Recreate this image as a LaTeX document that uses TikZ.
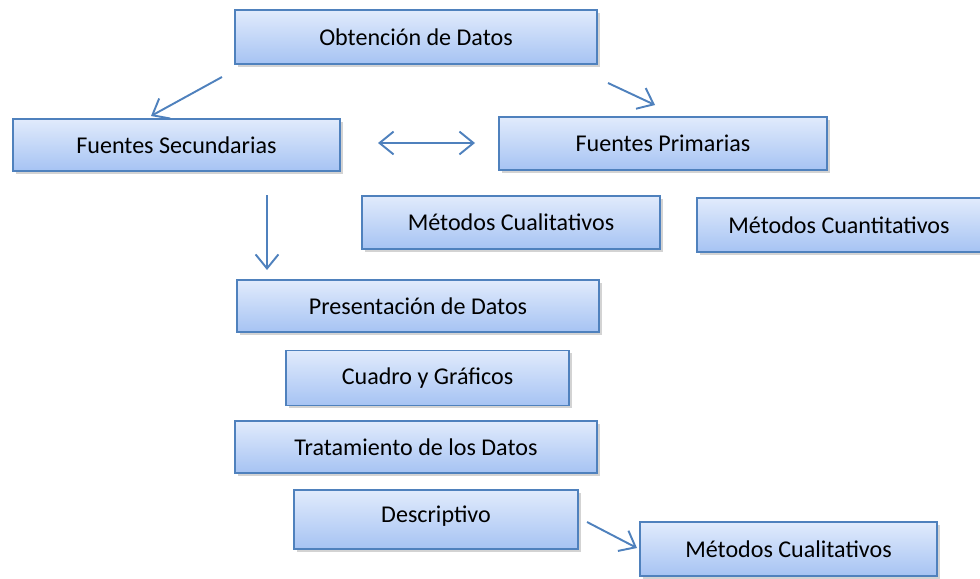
\documentclass[tikz,border=0pt]{standalone}
\usepackage{fontspec}
\setmainfont{Carlito}
\usetikzlibrary{arrows.meta,shadows}
\definecolor{boxline}{HTML}{4F81BD}
\definecolor{boxtop}{HTML}{E1EBFC}
\definecolor{boxbot}{HTML}{A6C3F3}

\begin{document}
\begin{tikzpicture}[x=0.02cm,y=-0.02cm,
  caja/.style={draw=boxline, line width=0.7pt, top color=boxtop, bottom color=boxbot,
    drop shadow={shadow xshift=1.6pt, shadow yshift=-1.6pt, opacity=0.35},
    inner sep=0pt, font=\fontsize{13.7}{16}\selectfont},
  flecha/.style={draw=boxline, line width=1.1pt, -{Straight Barb[length=8pt,width=13pt,line width=1.1pt]}},
  doble/.style={draw=boxline, line width=1.1pt, {Straight Barb[length=8pt,width=13pt,line width=1.1pt]}-{Straight Barb[length=8pt,width=13pt,line width=1.1pt]}}]
\useasboundingbox (0,0) rectangle (980,578);
\node[caja, minimum width=7.24cm, minimum height=1.08cm] (obtencion) at (416,37) {Obtención de Datos};
\node[caja, minimum width=6.54cm, minimum height=1.04cm] (secundarias) at (176.5,145) {Fuentes Secundarias};
\node[caja, minimum width=6.56cm, minimum height=1.06cm] (primarias) at (663,143.5) {Fuentes Primarias};
\node[caja, minimum width=5.96cm, minimum height=1.06cm] (cualit1) at (511,222.5) {Métodos Cualitativos};
\node[caja, minimum width=5.68cm, minimum height=1.08cm] (cuantit) at (839,225) {Métodos Cuantitativos};
\node[caja, minimum width=7.24cm, minimum height=1.04cm] (presentacion) at (418,306) {Presentación de Datos};
\node[caja, minimum width=5.66cm, minimum height=1.1cm] (cuadro) at (427.5,378) {Cuadro y Gráficos};
\node[caja, minimum width=7.24cm, minimum height=1.04cm] (tratamiento) at (416,447) {Tratamiento de los Datos};
\node[caja, minimum width=5.68cm, minimum height=1.18cm, text depth=0.6em] (descriptivo) at (436,519.5) {Descriptivo};
\node[caja, minimum width=5.94cm, minimum height=1.08cm] (cualit2) at (788.5,549) {Métodos Cualitativos};
\coordinate (f1a) at (222,77);
\coordinate (f1b) at (151,116);
\coordinate (f2a) at (608,83);
\coordinate (f2b) at (655,105);
\coordinate (f3a) at (378,143);
\coordinate (f3b) at (475,143);
\coordinate (f4a) at (267,195);
\coordinate (f4b) at (267,270);
\coordinate (f5a) at (587,522);
\coordinate (f5b) at (637,548);
\draw[flecha] (f1a) -- (f1b);
\draw[flecha] (f2a) -- (f2b);
\draw[doble] (f3a) -- (f3b);
\draw[flecha] (f4a) -- (f4b);
\draw[flecha] (f5a) -- (f5b);
\end{tikzpicture}
\end{document}
